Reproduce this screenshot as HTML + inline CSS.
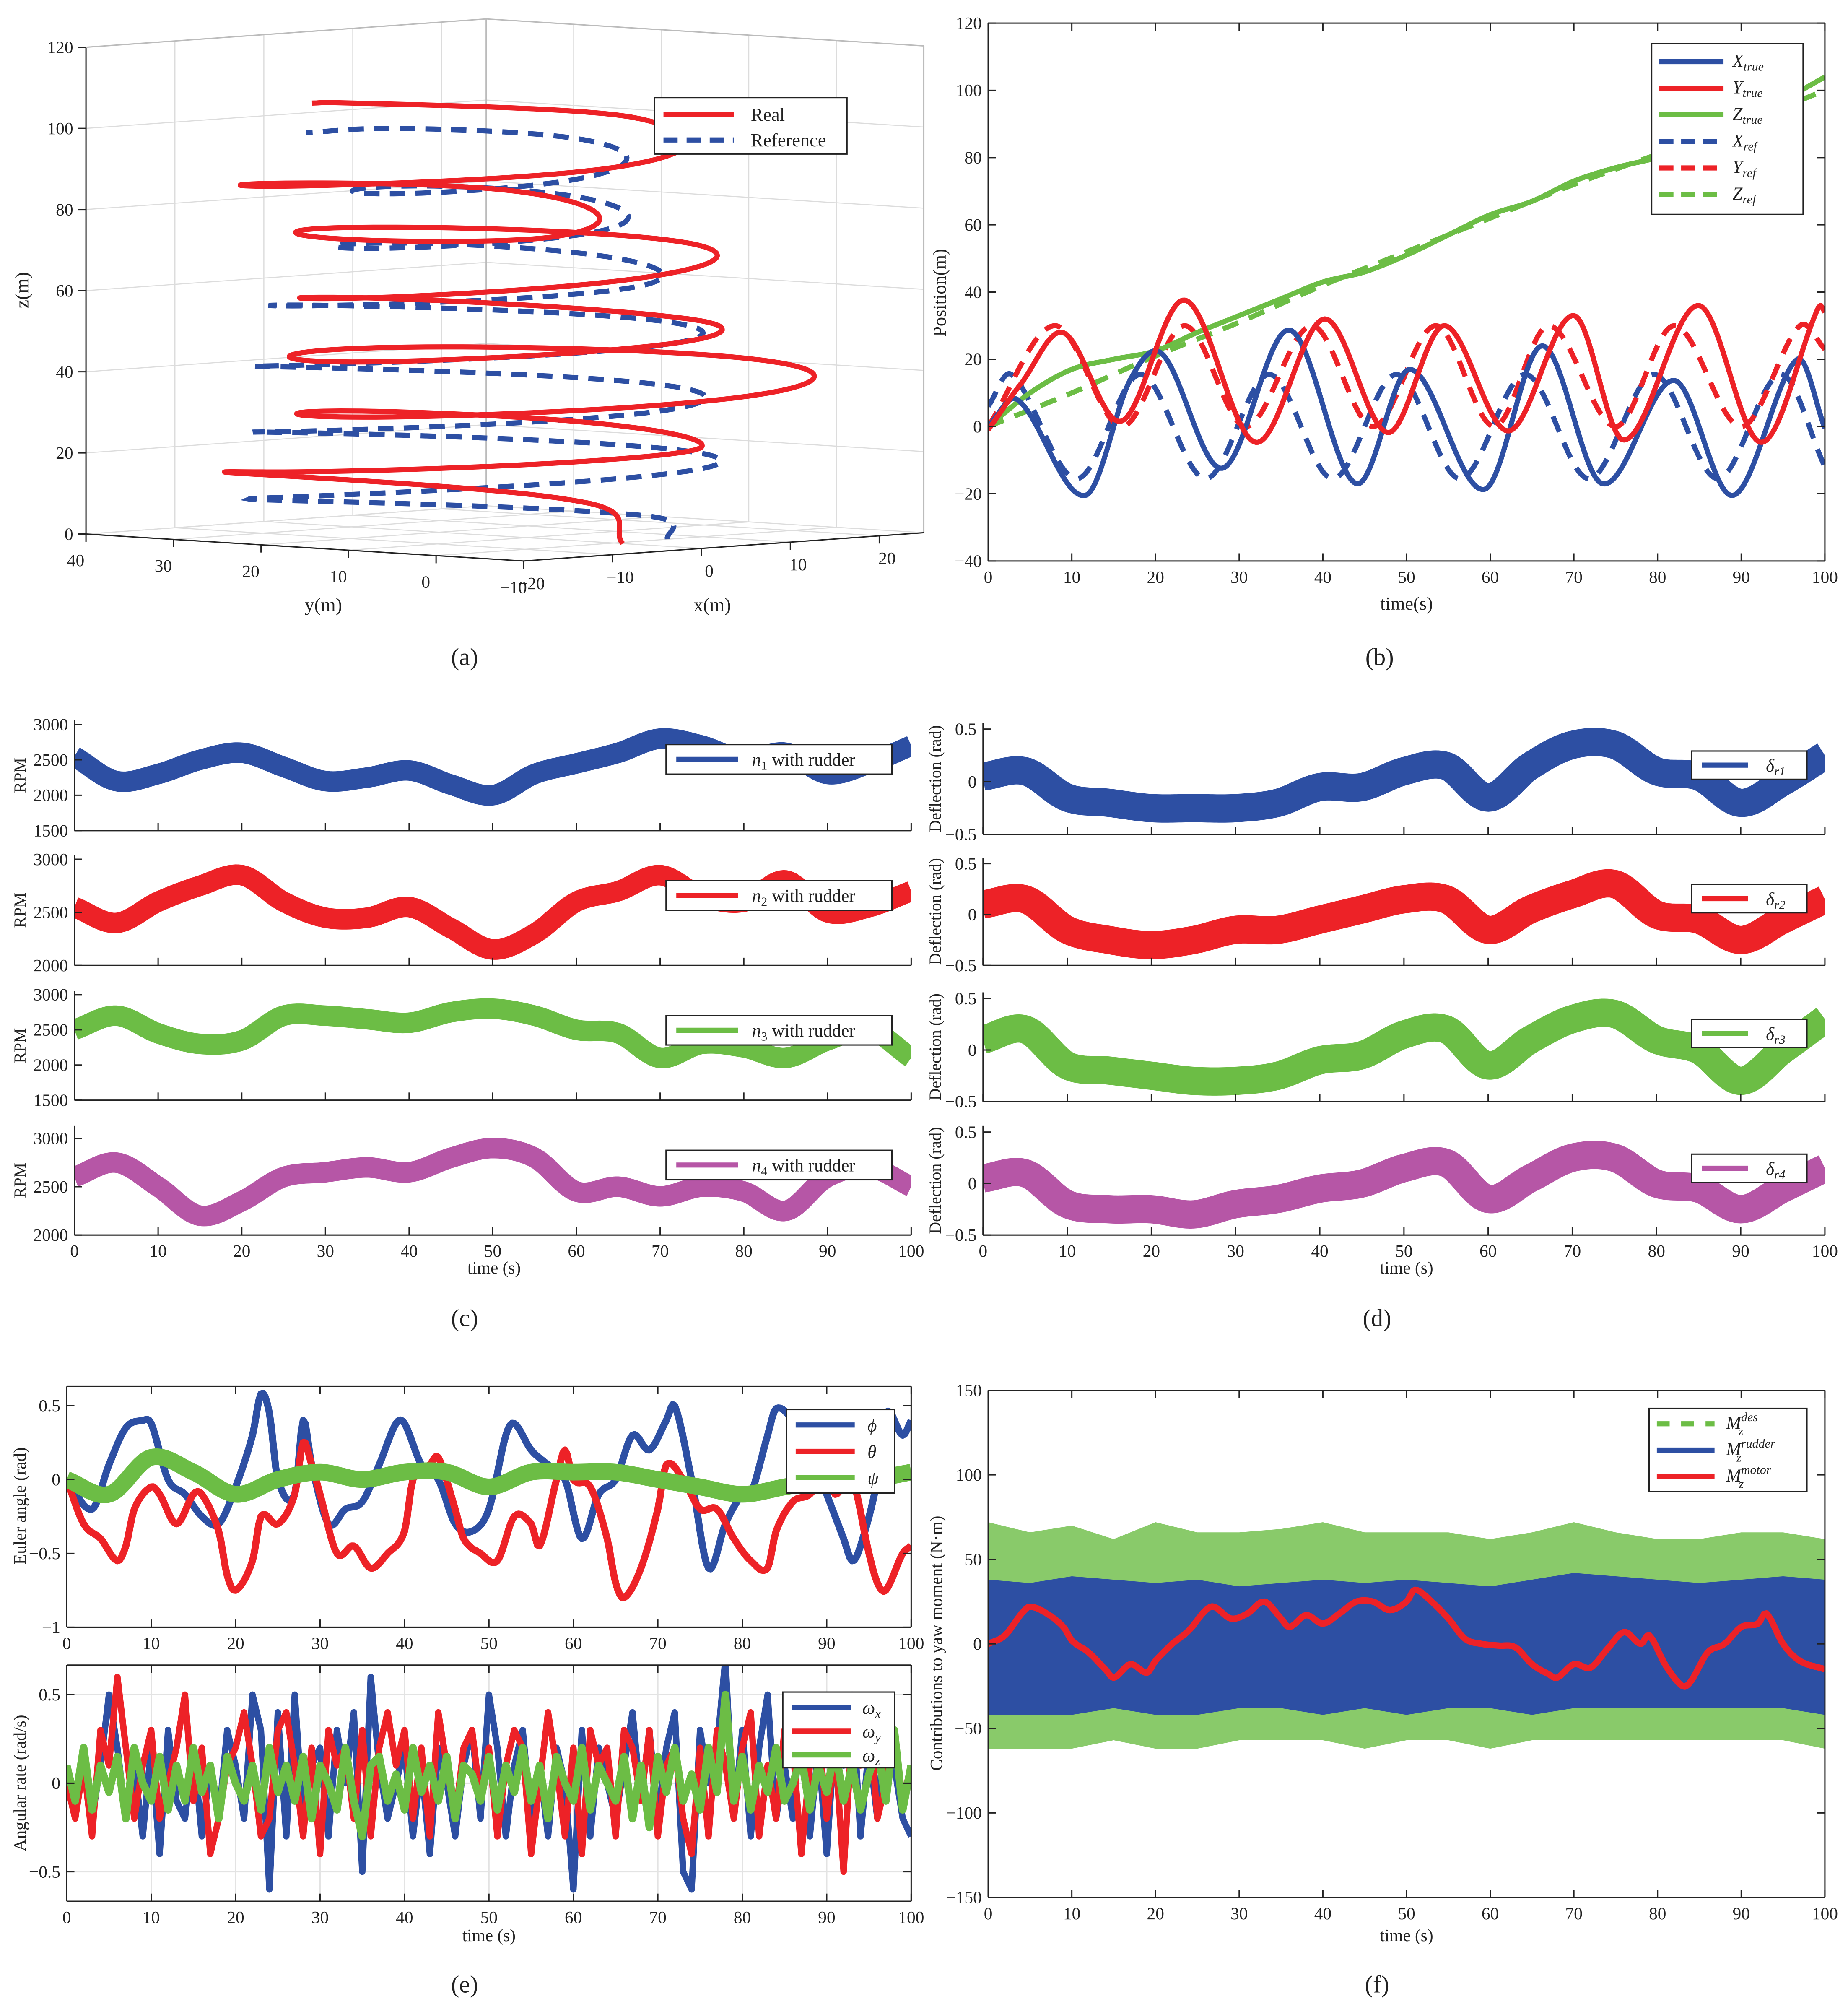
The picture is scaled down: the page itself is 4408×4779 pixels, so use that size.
<!DOCTYPE html>
<html><head><meta charset="utf-8"><title>Figure</title>
<style>
html,body{margin:0;padding:0;background:#fff;}
svg{display:block;}
text{font-family:"Liberation Serif","DejaVu Serif",serif;fill:#222;}
</style></head>
<body>
<svg id="fig" xmlns="http://www.w3.org/2000/svg" width="4408" height="4779" viewBox="0 0 1440 1561" preserveAspectRatio="none"></svg>
<script>
// ===== Panel (b) / (a) data: keyframe times (s) and values (m) =====
const xTrueT = [0,3.5,11.6,17,20.8,28,36,44,50.4,59.3,66.2,73.4,82,89,96.7,100];
const xTrueV = [0,8,-20.5,14,21.6,-12.4,28.7,-17,17,-18.7,24,-17,13.7,-20.5,20,-0.5];
const yTrueT = [0,4,9,15.9,23.5,32,40.2,47.8,54.5,62.2,70,76,84.9,92.4,99.3,100];
const yTrueV = [-1,13,27.9,1.6,37.6,-4.7,32,-1.8,30,-1.3,33,-4,36,-4.7,35.8,34];
const zTrueT = [0,5,10,15,20,25,30,35,40,45,50,55,60,65,70,75,80,85,90,95,100];
const zTrueV = [0,10,17,20,22.5,28,33,38,43,46,51,57,63,67,73,77,80,84,91,97,104];
const xRefT = [0,2.8,10.6,18.2,26,33.6,41.2,48.8,56.4,64.2,71.8,79.6,87.2,94.7,100];
const xRefV = [6,15.5,-15.5,15.5,-15.5,15.5,-15.5,15.5,-15.5,15.5,-15.5,15.5,-15.5,15.5,-12];
const yRefT = [0,8,16,23.5,30.8,38.7,46,53.5,60.5,67,75,82,90,97,100];
const yRefV = [0,30,0,30,0,30,0,30,0,30,0,30,0,30,23];
const zRefT = [0,10,20,30,40,50,60,70,80,90,100];
const zRefV = [0,10,21,31,42,52,62,72,81,90,100];
const bYTicks = [-40,-20,0,20,40,60,80,100,120];
const timeTicks = [0,10,20,30,40,50,60,70,80,90,100];

// ===== Panel (c): RPM, sampled every 5 s =====
const n1 = [2550,2200,2300,2500,2600,2400,2200,2250,2350,2150,2000,2300,2450,2600,2800,2700,2500,2600,2300,2450,2700];
const n2 = [2550,2400,2600,2750,2850,2600,2450,2450,2550,2350,2150,2300,2600,2700,2850,2650,2600,2800,2500,2550,2700];
const n3 = [2500,2700,2450,2300,2350,2700,2700,2650,2600,2750,2800,2700,2500,2450,2100,2300,2250,2100,2350,2500,2100];
const n4 = [2600,2750,2500,2200,2350,2600,2650,2700,2650,2800,2900,2800,2450,2500,2400,2500,2450,2250,2600,2700,2500];

// ===== Panel (d): deflection (rad), every 5 s =====
const dr1 = [0.05,0.1,-0.15,-0.2,-0.25,-0.25,-0.25,-0.2,-0.05,-0.05,0.1,0.15,-0.15,0.15,0.35,0.35,0.1,0.05,-0.2,0.0,0.25];
const dr2 = [0.1,0.15,-0.15,-0.25,-0.3,-0.25,-0.15,-0.15,-0.05,0.05,0.15,0.15,-0.15,0.05,0.2,0.3,0.0,-0.05,-0.25,-0.05,0.15];
const dr3 = [0.1,0.2,-0.15,-0.2,-0.25,-0.3,-0.3,-0.25,-0.1,-0.05,0.15,0.2,-0.15,0.1,0.3,0.35,0.1,0.0,-0.3,0.0,0.3];
const dr4 = [0.05,0.1,-0.2,-0.25,-0.25,-0.3,-0.2,-0.15,-0.05,0.0,0.15,0.2,-0.15,0.05,0.25,0.25,0.0,-0.05,-0.25,-0.05,0.15];

// ===== Panel (e) upper: Euler angles (rad) =====
const phiT = [0,3,5,7,9,10,12,14,16,18,20,22,23,24,25,27,28,29,31,33,35,37,39,40,42,44,46,48,50,52,53,55,57,59,61,63,65,67,69,71,72,74,76,78,80,81,83,84,86,88,90,92,93,94,96,97,99,100];
const phiV = [0,-0.2,0.1,0.35,0.4,0.38,0.0,-0.1,-0.25,-0.3,-0.05,0.3,0.58,0.45,0.0,-0.1,0.4,0.1,-0.3,-0.2,-0.15,0.1,0.38,0.38,0.1,0.0,-0.3,-0.35,-0.2,0.3,0.38,0.2,0.1,0.0,-0.4,-0.1,0.0,0.3,0.2,0.4,0.5,0.0,-0.6,-0.3,-0.1,-0.1,0.3,0.48,0.4,0.2,-0.1,-0.4,-0.55,-0.45,0.0,0.45,0.3,0.4];
const thetaT = [0,2,4,6,7,8,10,11,13,15,16,18,19,20,22,23,25,27,28,29,30,32,34,36,38,40,41,43,44,46,47,49,51,53,55,56,58,59,60,62,64,65,66,68,70,71,73,75,77,79,81,83,84,86,88,90,91,93,95,96,97,99,100];
const thetaV = [0,-0.3,-0.4,-0.55,-0.45,-0.2,-0.05,-0.1,-0.3,-0.1,-0.1,-0.35,-0.65,-0.75,-0.55,-0.25,-0.3,-0.1,0.25,0.1,-0.1,-0.5,-0.45,-0.6,-0.5,-0.35,0.0,0.1,0.15,-0.2,-0.4,-0.5,-0.55,-0.25,-0.3,-0.45,0.0,0.2,0.0,-0.05,-0.4,-0.7,-0.8,-0.6,-0.2,0.1,0.0,-0.2,-0.2,-0.4,-0.55,-0.6,-0.35,-0.15,-0.1,0.05,-0.1,0.0,-0.5,-0.7,-0.75,-0.5,-0.45];
const psiV = [0.0,-0.1,0.15,0.05,-0.1,0.0,0.05,0.0,0.05,0.05,-0.05,0.05,0.05,0.05,0.0,-0.05,-0.1,-0.05,0.0,0.0,0.05];

// ===== Panel (e) lower: angular rates (rad/s), every 1 s =====
const wx = [0,-0.1,0.2,-0.2,0.1,0.5,0.2,-0.2,0.1,-0.3,0.2,-0.4,0.3,-0.1,-0.2,0.2,-0.3,0.1,-0.2,0.3,0.1,-0.2,0.5,0.3,-0.6,0.4,-0.3,0.5,-0.2,0.1,0.2,-0.3,0.3,0.0,0.4,-0.5,0.6,0.1,-0.2,0.0,0.2,-0.3,0.1,-0.4,0.2,0.0,-0.3,0.1,0.3,-0.2,0.5,0.2,-0.3,0.1,0.3,-0.2,0.1,-0.3,0.2,0.0,-0.6,0.3,-0.3,0.2,0.0,-0.2,0.1,0.4,-0.1,0.3,-0.2,0.2,0.4,-0.5,-0.6,0.3,0.0,0.2,0.7,-0.2,0.3,-0.3,0.2,0.5,-0.2,0.1,-0.2,0.4,-0.3,0.2,-0.4,0.3,0.1,0.5,-0.3,0.2,-0.2,0.4,0.1,-0.2,-0.3];
const wy = [0,-0.2,0.1,-0.3,0.3,0.1,0.6,0.2,-0.2,0.1,0.3,-0.2,0.0,0.2,0.5,-0.1,0.2,-0.4,-0.2,0.1,0.2,0.4,0.1,-0.3,-0.2,0.3,0.4,0.1,-0.3,0.2,-0.4,0.3,0.1,0.2,-0.2,0.3,-0.3,0.2,0.4,0.1,0.3,-0.2,0.2,-0.3,0.4,0.1,-0.2,0.2,0.3,-0.1,0.2,-0.3,0.1,0.3,0.2,-0.4,0.0,0.4,0.1,-0.3,0.2,-0.4,0.3,0.1,0.2,-0.3,0.3,0.2,-0.1,0.3,-0.3,0.1,0.2,-0.2,-0.4,0.2,-0.3,0.3,0.1,-0.2,0.2,0.4,-0.3,0.1,-0.2,0.3,0.2,-0.4,0.1,0.3,-0.2,0.2,-0.5,0.3,0.1,0.4,-0.2,0.0,0.3,-0.1,0.1];
const wz = [0.1,-0.1,0.2,-0.15,0.1,-0.05,0.15,-0.2,0.2,0.0,-0.1,0.15,-0.15,0.1,-0.1,0.2,-0.05,0.1,-0.2,0.15,0.0,-0.1,0.1,-0.15,0.2,-0.05,0.1,-0.1,0.15,-0.2,0.1,0.0,-0.15,0.2,-0.1,-0.3,0.1,0.15,-0.1,0.05,-0.15,0.2,-0.05,0.1,-0.1,0.15,-0.2,0.1,0.05,-0.1,0.15,-0.15,0.1,-0.05,0.2,-0.1,0.1,-0.2,0.15,0.0,-0.1,0.2,-0.15,0.1,0.0,-0.1,0.15,-0.2,0.1,-0.25,0.15,-0.05,0.2,-0.1,0.05,-0.15,0.2,-0.05,0.5,-0.1,0.15,-0.15,0.1,-0.05,0.2,-0.1,0.0,0.15,-0.15,0.1,-0.05,0.2,-0.1,0.1,-0.15,0.05,0.2,-0.1,0.3,-0.15,0.1];

// ===== Panel (f): yaw moment contributions (N·m) =====
const motorT = [0,2,4,5,7,9,10,12,14,15,17,19,20,22,24,26,27,29,31,33,35,36,38,40,42,44,46,48,50,51,53,55,57,59,61,63,65,67,68,70,72,74,76,78,79,81,83,84,86,88,90,92,93,95,97,100];
const motorV = [0,5,18,22,18,10,2,-5,-15,-20,-12,-17,-10,0,8,20,22,15,18,25,15,10,17,12,18,25,25,20,25,32,25,15,3,0,-1,-2,-12,-18,-20,-12,-14,-3,7,0,5,-13,-25,-22,-5,0,10,12,18,0,-10,-15];
const rudderUpper = [38,36,40,38,36,38,34,36,38,36,38,36,34,38,42,40,38,36,38,40,38];
const rudderLower = [-42,-42,-42,-38,-42,-42,-38,-38,-42,-38,-42,-38,-38,-42,-38,-38,-38,-38,-38,-38,-42];
const desUpper = [72,66,70,62,72,66,66,68,72,66,66,66,62,66,72,66,62,62,66,66,62];
const desLower = [-62,-62,-62,-57,-62,-62,-57,-57,-57,-62,-57,-57,-62,-57,-57,-57,-57,-57,-57,-57,-62];
const fYTicks = [-150,-100,-50,0,50,100,150];

// ===== helpers =====
const NS = "http://www.w3.org/2000/svg";
const svg = document.getElementById('fig');
const BLUE="#2d4fa3", RED="#ed2227", GREEN="#6cbd45", PURPLE="#b656a6";
function mk(tag, attrs, parent){ const e=document.createElementNS(NS,tag); for(const k in attrs) e.setAttribute(k,attrs[k]); (parent||svg).appendChild(e); return e; }
function lin(d0,d1,r0,r1){ return v => r0+(v-d0)*(r1-r0)/(d1-d0); }
function idxT(arr){ return arr.map((_,i)=>i*100/(arr.length-1)); }
function evalSpline(ts, vs, t){
  const n=ts.length; if(t<=ts[0]) return vs[0]; if(t>=ts[n-1]) return vs[n-1];
  let i=0; while(i<n-2 && t>ts[i+1]) i++;
  const t0=ts[i], t1=ts[i+1], dt=t1-t0, u=(t-t0)/dt;
  const m0 = i>0 ? (vs[i+1]-vs[i-1])/(ts[i+1]-ts[i-1]) : (vs[1]-vs[0])/(ts[1]-ts[0]);
  const m1 = i+2<n ? (vs[i+2]-vs[i])/(ts[i+2]-ts[i]) : (vs[n-1]-vs[n-2])/(ts[n-1]-ts[n-2]);
  const h00=2*u*u*u-3*u*u+1, h10=u*u*u-2*u*u+u, h01=-2*u*u*u+3*u*u, h11=u*u*u-u*u;
  return h00*vs[i]+h10*dt*m0+h01*vs[i+1]+h11*dt*m1;
}
function splinePath(ts, vs, sx, sy){
  let d=""; for(let t=0;t<=100.0001;t+=0.25){ d+=(d?"L":"M")+sx(t).toFixed(2)+","+sy(evalSpline(ts,vs,t)).toFixed(2); } return d;
}
function linePath(ts, vs, sx, sy){ return vs.map((v,i)=>(i?"L":"M")+sx(ts[i]).toFixed(2)+","+sy(v).toFixed(2)).join(""); }
function txt(s, x, y, size, anchor, parent){ const t=mk('text',{x:x,y:y,'font-size':size,'text-anchor':anchor||'middle'},parent); t.textContent=s; return t; }
function fmt(v){ return v<0 ? "\u2212"+Math.abs(v) : String(v); }
function axesFrame(g, x0,x1,y0,y1, full){
  mk('line',{x1:x0,y1:y0,x2:x0,y2:y1,stroke:'#222','stroke-width':1},g);
  mk('line',{x1:x0,y1:y1,x2:x1,y2:y1,stroke:'#222','stroke-width':1},g);
  if(full){ mk('line',{x1:x0,y1:y0,x2:x1,y2:y0,stroke:'#222','stroke-width':1},g);
            mk('line',{x1:x1,y1:y0,x2:x1,y2:y1,stroke:'#222','stroke-width':1},g); }
}
function xTicks(g, sx, ticks, y0, y1, labels, full){
  ticks.forEach(v=>{ const x=sx(v);
    mk('line',{x1:x,y1:y1,x2:x,y2:y1-6,stroke:'#222','stroke-width':1},g);
    if(full) mk('line',{x1:x,y1:y0,x2:x,y2:y0+6,stroke:'#222','stroke-width':1},g);
    if(labels){ const t=txt(fmt(v), x, y1+17, 13.5, 'middle', g);
      
       }
  });
}
function yTicks(g, sy, ticks, x0, x1, full){
  ticks.forEach(v=>{ const y=sy(v);
    mk('line',{x1:x0,y1:y,x2:x0+6,y2:y,stroke:'#222','stroke-width':1},g);
    if(full) mk('line',{x1:x1,y1:y,x2:x1-6,y2:y,stroke:'#222','stroke-width':1},g);
    const t=txt(fmt(v), x0-5, y+4.5, 13.5, 'end', g);
    
    
  });
}
function rotLabel(g, s, x, y, size){ const t=mk('text',{x:0,y:0,'font-size':size||14,'text-anchor':'middle',transform:`translate(${x},${y}) rotate(-90)`},g); t.textContent=s; return t; }
function legendBox(g, x,y,w,h){ return mk('rect',{x:x,y:y,width:w,height:h,fill:'#fff',stroke:'#222','stroke-width':1},g); }
function legLine(g, x1,x2,y,color,dash,w){ const l=mk('line',{x1:x1,y1:y,x2:x2,y2:y,stroke:color,'stroke-width':w||4},g); if(dash) l.setAttribute('stroke-dasharray',dash); return l; }
function mathLabel(g, base, sub, sup, x, y, size, extra){
  const t=mk('text',{x:x,y:y,'font-size':size,'text-anchor':'start'},g);
  const b=mk('tspan',{'font-style':'italic'},t); b.textContent=base;
  if(sup){ const s1=mk('tspan',{'font-style':'italic','font-size':size*0.7,dy:-6},t); s1.textContent=sup;
           const s2=mk('tspan',{'font-style':'italic','font-size':size*0.7,dx:-(sup.length*size*0.36),dy:11},t); s2.textContent=sub; }
  else if(sub){ const s=mk('tspan',{'font-size':size*0.7,dy:3, 'font-style': /^[0-9]$/.test(sub)?'normal':'italic'},t); s.textContent=sub;
    if(extra){ const e=mk('tspan',{dy:-3},t); e.textContent=extra; } }
  return t;
}

// ===== Panel (a): 3D helix =====
(function(){
  const g=mk('g',{});  
  const P=(x,y,z)=>[408+(x+20)*6.93+(y+10)*(-6.82), 437+(x+20)*(-0.49)+(y+10)*(-0.42)-z*3.16];
  const grid='#dcdcdc';
  const zt=[0,20,40,60,80,100,120], xt=[-20,-10,0,10,20], yt=[40,30,20,10,0,-10];
  const L=(a,b,c,w)=>mk('line',{x1:a[0],y1:a[1],x2:b[0],y2:b[1],stroke:c,'stroke-width':w||0.8},g);
  zt.forEach(z=>{ L(P(-20,40,z),P(25,40,z),grid); L(P(25,40,z),P(25,-10,z),grid); });
  xt.forEach(x=>{ L(P(x,40,0),P(x,40,120),grid); L(P(x,40,0),P(x,-10,0),grid); });
  yt.forEach(y=>{ L(P(25,y,0),P(25,y,120),grid); L(P(-20,y,0),P(25,y,0),grid); });
  L(P(-20,40,0),P(-20,40,120),'#222',1); L(P(25,-10,0),P(25,-10,120),'#bbb',1);
  L(P(25,40,0),P(25,40,120),'#bbb',1);
  L(P(-20,40,120),P(25,40,120),'#bbb',1); L(P(25,40,120),P(25,-10,120),'#bbb',1);
  L(P(-20,40,0),P(-20,-10,0),'#222',1); L(P(-20,-10,0),P(25,-10,0),'#222',1);
  zt.forEach(z=>{ const p=P(-20,40,z); L(p,[p[0]-6,p[1]],'#222',1); const t=txt(String(z),p[0]-10,p[1]+4.5,13.5,'end',g);
      });
  yt.forEach(y=>{ const p=P(-20,y,0); L(p,[p[0],p[1]+6],'#222',1); const t=txt(fmt(y),p[0]-8,p[1]+25,13.5,'middle',g);
      });
  xt.forEach(x=>{ const p=P(x,-10,0); L(p,[p[0],p[1]+6],'#222',1); const t=txt(fmt(x),p[0]+6,p[1]+22,13.5,'middle',g);
      });
  let dr="", dref="";
  for(let t=0;t<=100.0001;t+=0.2){
    const a=P(evalSpline(xTrueT,xTrueV,t),evalSpline(yTrueT,yTrueV,t),evalSpline(zTrueT,zTrueV,t));
    const b=P(evalSpline(xRefT,xRefV,t),evalSpline(yRefT,yRefV,t),evalSpline(zRefT,zRefV,t));
    dr+=(dr?"L":"M")+a[0].toFixed(2)+","+a[1].toFixed(2); dref+=(dref?"L":"M")+b[0].toFixed(2)+","+b[1].toFixed(2);
  }
  const ref=mk('path',{d:dref,fill:'none',stroke:BLUE,'stroke-width':4,'stroke-dasharray':'12 8'},g);
   
  const real=mk('path',{d:dr,fill:'none',stroke:RED,'stroke-width':4,'stroke-linejoin':'round'},g);
   
  const yl=txt('y(m)',252,476,15,'middle',g);  
  const xl=txt('x(m)',555,476,15,'middle',g);  
  const zl=rotLabel(g,'z(m)',22,226,15);  
  const lg=mk('g',{},g);  
  legendBox(lg,510,76,150,44);
  legLine(lg,517,572,89,RED); txt('Real',585,94,14.5,'start',lg);
  legLine(lg,517,572,109,BLUE,'11 7'); txt('Reference',585,114,14.5,'start',lg);
  const pl=txt('(a)',362,518,19,'middle');  
})();

// ===== Panel (b) =====
(function(){
  const g=mk('g',{});  
  const x0=770,x1=1422,y0=18,y1=437;
  const sx=lin(0,100,x0,x1), sy=lin(-40,120,y1,y0);
  mk('rect',{x:x0,y:y0,width:x1-x0,height:y1-y0,fill:'#fff'},g);
  const cp=mk('clipPath',{id:'cb'},g); mk('rect',{x:x0,y:y0,width:x1-x0,height:y1-y0},cp);
  const sg=mk('g',{'clip-path':'url(#cb)'},g);
  const series=[[zRefT,zRefV,GREEN,true,'z-ref-line'],[xRefT,xRefV,BLUE,true,'x-ref-line'],[yRefT,yRefV,RED,true,'y-ref-line'],
                [zTrueT,zTrueV,GREEN,false,'z-true-line'],[xTrueT,xTrueV,BLUE,false,'x-true-line'],[yTrueT,yTrueV,RED,false,'y-true-line']];
  series.forEach(s=>{ const p=mk('path',{d:splinePath(s[0],s[1],sx,sy),fill:'none',stroke:s[2],'stroke-width':4,'stroke-linejoin':'round'},sg);
    if(s[3]) p.setAttribute('stroke-dasharray','13 9');
      });
  axesFrame(g,x0,x1,y0,y1,true);
  xTicks(g,sx,timeTicks,y0,y1,true,true); yTicks(g,sy,bYTicks,x0,x1,true);
  const xl=txt('time(s)',1096,475,14.5,'middle',g);  
  const yl=rotLabel(g,'Position(m)',737,228,14.5);  
  const lg=mk('g',{},g);  
  legendBox(lg,1287,34,118,133);
  const ent=[['X','true',BLUE,false],['Y','true',RED,false],['Z','true',GREEN,false],['X','ref',BLUE,true],['Y','ref',RED,true],['Z','ref',GREEN,true]];
  ent.forEach((e,i)=>{ const y=48+i*20.7; legLine(lg,1293,1343,y,e[2],e[3]?'11 6':null); mathLabel(lg,e[0],e[1],null,1350,y+4,14); });
  const pl=txt('(b)',1075,518,19,'middle');  
})();

// ===== Panels (c) & (d): stacked subplots =====
function stacked(cfg){
  const g=mk('g',{});  
  cfg.rows.forEach((r,k)=>{
    const sg=mk('g',{},g);  
    const sx=lin(0,100,cfg.x0,cfg.x1), sy=lin(r.vmin,r.vmax,r.bottom,r.top);
    const id='c'+cfg.id+k; const cp=mk('clipPath',{id:id},sg); mk('rect',{x:cfg.x0,y:r.top-4,width:cfg.x1-cfg.x0,height:r.bottom-r.top+4},cp);
    const p=mk('path',{d:splinePath(idxT(r.data),r.data,sx,sy),fill:'none',stroke:r.color,'stroke-width':cfg.sw,'stroke-linejoin':'round','clip-path':`url(#${id})`},sg);
     
    axesFrame(sg,cfg.x0,cfg.x1,r.top,r.bottom,false);
    xTicks(sg,sx,timeTicks,r.top,r.bottom,k===cfg.rows.length-1,false);
    yTicks(sg,sy,r.ticks,cfg.x0,cfg.x1,false);
    const yl=rotLabel(sg,cfg.ylabel,cfg.ylx,(r.top+r.bottom)/2,13);  
    const lg=mk('g',{},sg);  
    const L=r.leg; legendBox(lg,L[0],L[1],L[2],L[3]);
    const cy=L[1]+L[3]/2;
    legLine(lg,L[0]+8,L[0]+(cfg.id==='c'?56:44),cy,r.color,null,4);
    if(cfg.id==='c') mathLabel(lg,'n',String(k+1),null,L[0]+67,cy+5,14,' with rudder');
    else mathLabel(lg,'\u03b4','r'+(k+1),null,L[0]+58,cy+5,14);
  });
  const xl=txt('time (s)',cfg.xlabelX,992,13.5,'middle',g);  
}
stacked({name:'panel-c-rpm-chart',id:'c',x0:58,x1:710,sw:16,ylabel:'RPM',ylx:20,xlabelX:385,rows:[
  {name:'n1-subplot',top:561,bottom:647,vmin:1500,vmax:3060,ticks:[1500,2000,2500,3000],data:n1,color:BLUE,leg:[519,580,176,23]},
  {name:'n2-subplot',top:666,bottom:752,vmin:2000,vmax:3040,ticks:[2000,2500,3000],data:n2,color:RED,leg:[519,686,176,23]},
  {name:'n3-subplot',top:772,bottom:857,vmin:1500,vmax:3050,ticks:[1500,2000,2500,3000],data:n3,color:GREEN,leg:[519,791,176,23]},
  {name:'n4-subplot',top:877,bottom:962,vmin:2000,vmax:3130,ticks:[2000,2500,3000],data:n4,color:PURPLE,leg:[519,896,176,23]}]});
stacked({name:'panel-d-deflection-chart',id:'d',x0:766,x1:1422,sw:22,ylabel:'Deflection (rad)',ylx:733,xlabelX:1096,rows:[
  {name:'dr1-subplot',top:563,bottom:650,vmin:-0.5,vmax:0.56,ticks:[-0.5,0,0.5],data:dr1,color:BLUE,leg:[1318,585,90,22]},
  {name:'dr2-subplot',top:668,bottom:752,vmin:-0.5,vmax:0.56,ticks:[-0.5,0,0.5],data:dr2,color:RED,leg:[1318,689,90,22]},
  {name:'dr3-subplot',top:773,bottom:858,vmin:-0.5,vmax:0.56,ticks:[-0.5,0,0.5],data:dr3,color:GREEN,leg:[1318,794,90,22]},
  {name:'dr4-subplot',top:877,bottom:962,vmin:-0.5,vmax:0.56,ticks:[-0.5,0,0.5],data:dr4,color:PURPLE,leg:[1318,899,90,22]}]});
(function(){ const a=txt('(c)',362,1033,19,'middle');  
  const b=txt('(d)',1073,1033,19,'middle');   })();

// ===== Panel (e) =====
(function(){
  const g=mk('g',{});  
  const x0=52,x1=710; const sx=lin(0,100,x0,x1);
  const gu=mk('g',{},g);  
  const ut=1080, ub=1267.5; const syu=lin(-1,0.63,ub,ut);
  const cu=mk('clipPath',{id:'ceu'},gu); mk('rect',{x:x0,y:ut,width:x1-x0,height:ub-ut},cu);
  const su=mk('g',{'clip-path':'url(#ceu)'},gu);
  const p1=mk('path',{d:splinePath(phiT,phiV,sx,syu),fill:'none',stroke:BLUE,'stroke-width':5.5,'stroke-linejoin':'round'},su);
   
  const p2=mk('path',{d:splinePath(thetaT,thetaV,sx,syu),fill:'none',stroke:RED,'stroke-width':5.5,'stroke-linejoin':'round'},su);
   
  const p3=mk('path',{d:splinePath(idxT(psiV),psiV,sx,syu),fill:'none',stroke:GREEN,'stroke-width':13,'stroke-linejoin':'round'},su);
   
  axesFrame(gu,x0,x1,ut,ub,true); xTicks(gu,sx,timeTicks,ut,ub,true,true); yTicks(gu,syu,[-1,-0.5,0,0.5],x0,x1,true);
  const yl1=rotLabel(gu,'Euler angle (rad)',20,1173,13.5);  
  const lg=mk('g',{},gu);  
  legendBox(lg,613,1098,84,65);
  [['\u03d5',BLUE],['\u03b8',RED],['\u03c8',GREEN]].forEach((e,i)=>{ const y=1110+i*20.5; legLine(lg,620,666,y,e[1]); mathLabel(lg,e[0],null,null,676,y+5,14); });
  const gl=mk('g',{},g);  
  const lt=1297, lb=1481; const syl=lin(-0.667,0.667,lb,lt);
  timeTicks.forEach(v=>mk('line',{x1:sx(v),y1:lt,x2:sx(v),y2:lb,stroke:'#e3e3e3','stroke-width':1},gl));
  [-0.5,0,0.5].forEach(v=>mk('line',{x1:x0,y1:syl(v),x2:x1,y2:syl(v),stroke:'#e3e3e3','stroke-width':1},gl));
  const cl=mk('clipPath',{id:'cel'},gl); mk('rect',{x:x0,y:lt,width:x1-x0,height:lb-lt},cl);
  const sl=mk('g',{'clip-path':'url(#cel)'},gl);
  const q1=mk('path',{d:linePath(idxT(wx),wx,sx,syl),fill:'none',stroke:BLUE,'stroke-width':5,'stroke-linejoin':'round'},sl);
   
  const q2=mk('path',{d:linePath(idxT(wy),wy,sx,syl),fill:'none',stroke:RED,'stroke-width':5,'stroke-linejoin':'round'},sl);
   
  const q3=mk('path',{d:linePath(idxT(wz),wz,sx,syl),fill:'none',stroke:GREEN,'stroke-width':6,'stroke-linejoin':'round'},sl);
   
  axesFrame(gl,x0,x1,lt,lb,true); xTicks(gl,sx,timeTicks,lt,lb,true,true); yTicks(gl,syl,[-0.5,0,0.5],x0,x1,true);
  const yl2=rotLabel(gl,'Angular rate (rad/s)',20,1389,13.5);  
  const xl=txt('time (s)',381,1512,13.5,'middle',gl);  
  const lg2=mk('g',{},gl);  
  legendBox(lg2,610,1318,87,59);
  [['x',BLUE],['y',RED],['z',GREEN]].forEach((e,i)=>{ const y=1330+i*18.5; legLine(lg2,617,663,y,e[1]); mathLabel(lg2,'\u03c9',e[0],null,672,y+5,14); });
  const pl=txt('(e)',362,1552,19,'middle');  
})();

// ===== Panel (f) =====
(function(){
  const g=mk('g',{});  
  const x0=770,x1=1422,y0=1083,y1=1478;
  const sx=lin(0,100,x0,x1), sy=lin(-150,150,y1,y0);
  const cp=mk('clipPath',{id:'cf'},g); mk('rect',{x:x0,y:y0,width:x1-x0,height:y1-y0},cp);
  const sg=mk('g',{'clip-path':'url(#cf)'},g);
  function band(up,lo,color,op,name){
    const tu=idxT(up), tl=idxT(lo);
    let d=up.map((v,i)=>(i?"L":"M")+sx(tu[i]).toFixed(2)+","+sy(v).toFixed(2)).join("");
    for(let i=lo.length-1;i>=0;i--) d+="L"+sx(tl[i]).toFixed(2)+","+sy(lo[i]).toFixed(2);
    const p=mk('path',{d:d+"Z",fill:color,'fill-opacity':op,stroke:'none'},sg);
     
  }
  band(desUpper,desLower,GREEN,0.8,'desired-moment-band');
  band(rudderUpper,rudderLower,BLUE,1,'rudder-moment-band');
  const m=mk('path',{d:splinePath(motorT,motorV,sx,sy),fill:'none',stroke:RED,'stroke-width':5,'stroke-linejoin':'round'},sg);
   
  axesFrame(g,x0,x1,y0,y1,true); xTicks(g,sx,timeTicks,y0,y1,true,true); yTicks(g,sy,fYTicks,x0,x1,true);
  const xl=txt('time (s)',1096,1512,13.5,'middle',g);  
  const yl=rotLabel(g,'Contributions to yaw moment (N\u00b7m)',734,1280,13.5);  
  const lg=mk('g',{},g);  
  legendBox(lg,1285,1097,123,65);
  [['des',GREEN,'10 9'],['rudder',BLUE,null],['motor',RED,null]].forEach((e,i)=>{ const y=1109+i*20.5; legLine(lg,1291,1336,y,e[1],e[2]); mathLabel(lg,'M','z',e[0],1345,y+4,14); });
  const pl=txt('(f)',1073,1552,19,'middle');  
})();
</script>
</body></html>
